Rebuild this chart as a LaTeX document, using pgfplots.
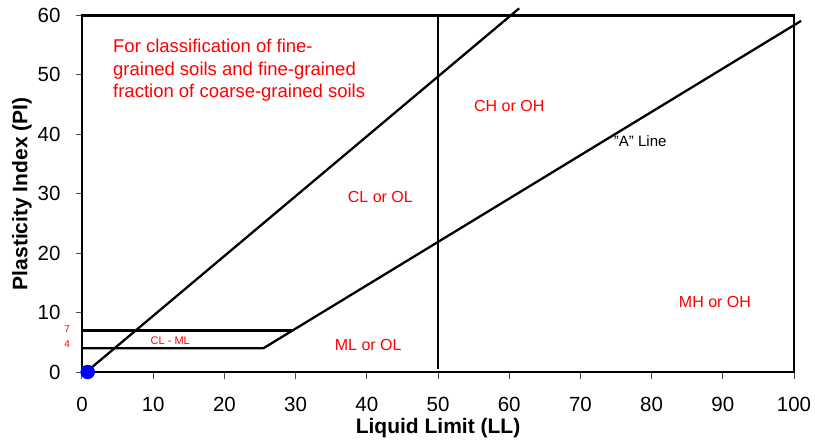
\documentclass[border=0pt]{standalone}
\usepackage{fontspec}
\setmainfont{Liberation Sans}
\usepackage{pgfplots}
\pgfplotsset{compat=1.18}
\begin{document}
\begin{tikzpicture}
\begin{axis}[
  scale only axis, width=712pt, height=356.5pt,
  xmin=0, xmax=100, ymin=0, ymax=60,
  xtick={0,10,...,100}, ytick={0,10,...,60},
  xtick pos=bottom, ytick pos=left, tick align=outside,
  major tick length=6.5pt,
  axis line style={line width=2.6pt}, every tick/.style={black!70, line width=1pt},
  /pgf/number format/assume math mode=true,
  ticklabel style={font=\fontsize{20.5}{22}\selectfont},
  xticklabel style={anchor=center, yshift=-26pt},
  yticklabel style={anchor=east, xshift=-11.5pt},
  xlabel={\textbf{Liquid Limit (LL)}}, ylabel={\textbf{Plasticity Index (PI)}},
  label style={font=\fontsize{21}{23}\selectfont},
  xlabel style={at={(axis description cs:0.5,-0.157)}, anchor=center},
  ylabel style={at={(axis description cs:-0.0843,0.5)}, anchor=center},
  clip=false,
]
% U-type line
\addplot[black, line width=2.3pt] coordinates {(0.6,0) (61.4,61.2)};
% A-line with CL-ML band
\addplot[black, line width=2.3pt] coordinates {(0,4) (25.48,4) (101,59.1)};
\addplot[black, line width=2.3pt] coordinates {(0,7) (29.6,7)};
\addplot[black, line width=2pt] coordinates {(50,0.5) (50,60)};
\addplot[only marks, mark=*, blue, mark size=7pt] coordinates {(0.8,0)};
\begin{scope}[every node/.style={text=red, font=\fontsize{16}{19}\selectfont}]
\node[anchor=north west, align=left, inner sep=0pt, font=\fontsize{18.5}{22.5}\selectfont] at (axis cs:4.35,56.0) {For classification of fine-\\grained soils and fine-grained\\fraction of coarse-grained soils};
\node at (axis cs:60.0,44.8) {CH or OH};
\node at (axis cs:41.9,29.5) {CL or OL};
\node at (axis cs:88.9,11.85) {MH or OH};
\node at (axis cs:40.2,4.6) {ML or OL};
\node[font=\fontsize{11}{13}\selectfont] at (axis cs:12.4,5.3) {CL - ML};
\node[font=\fontsize{10}{12}\selectfont] at (axis cs:-2.1,7.3) {7};
\node[font=\fontsize{10}{12}\selectfont] at (axis cs:-2.1,4.75) {4};
\end{scope}
\node[font=\fontsize{15}{17}\selectfont] at (axis cs:78.4,38.8) {\char34A\char34{} Line};
\end{axis}
\pgfresetboundingbox
\path[use as bounding box] ([xshift=-82pt,yshift=-75pt]current axis.south west) rectangle ([xshift=21pt,yshift=15.5pt]current axis.north east);
\end{tikzpicture}
\end{document}
